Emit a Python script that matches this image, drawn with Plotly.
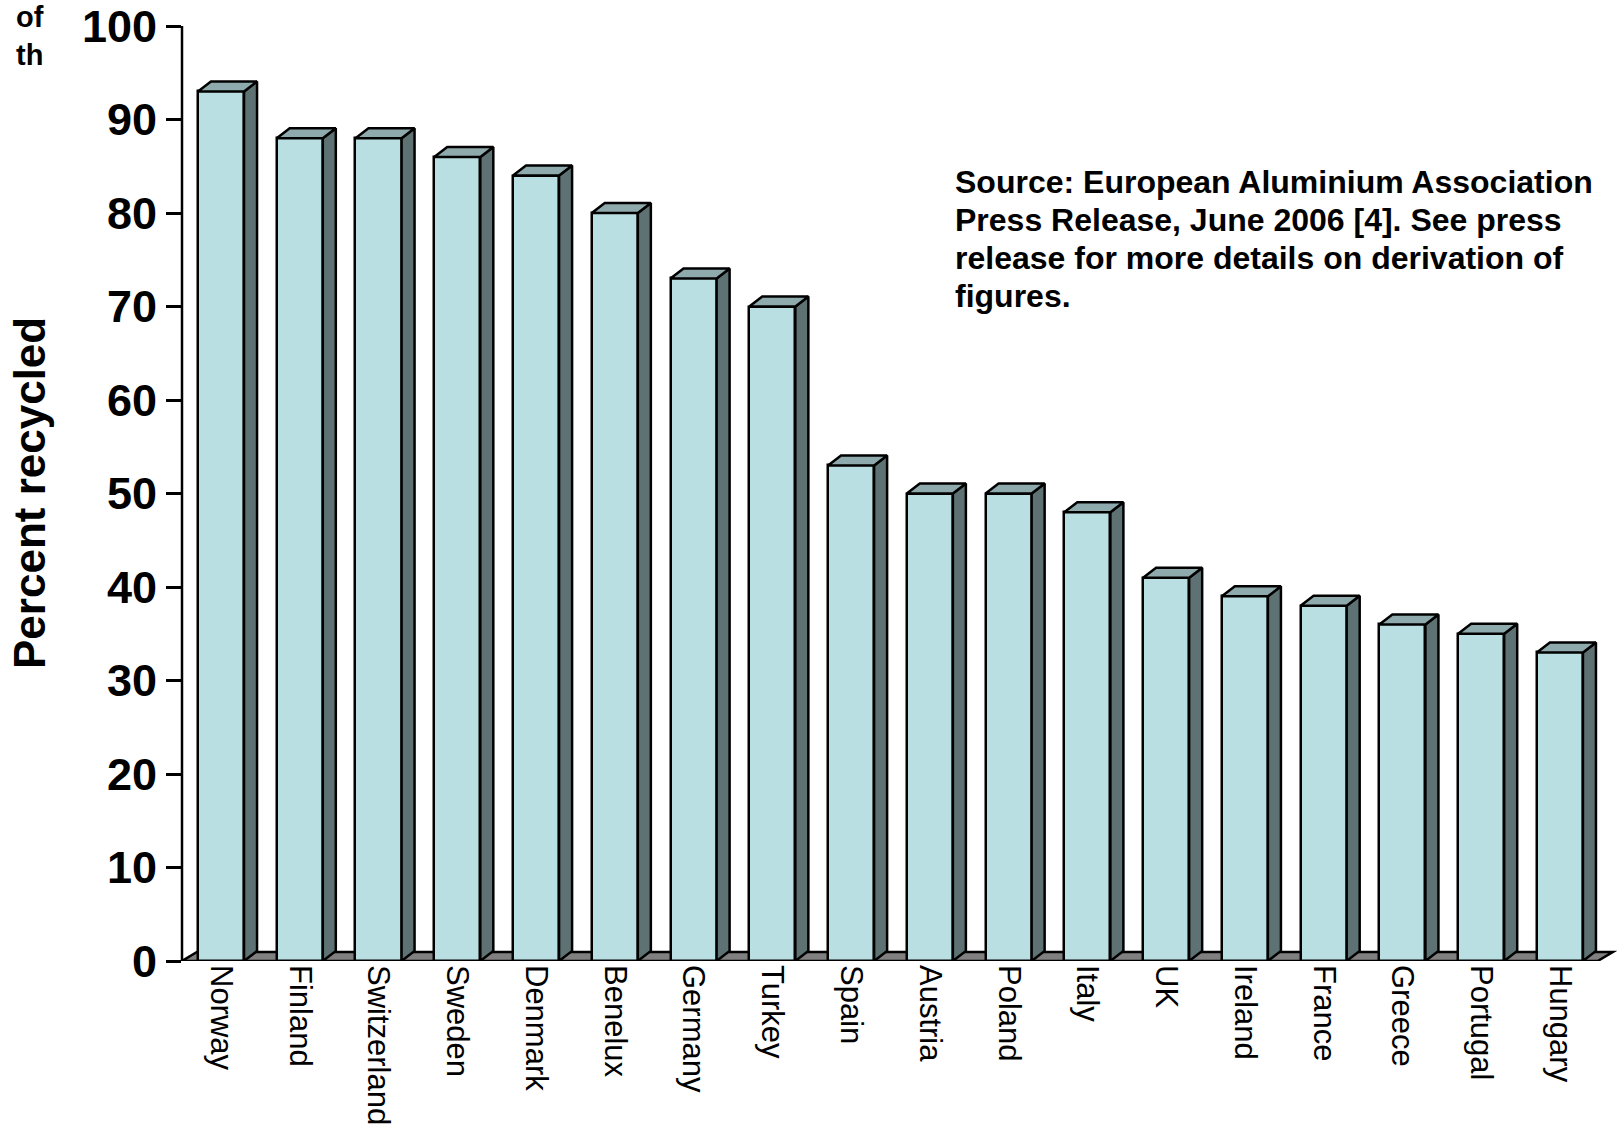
import plotly.graph_objects as go

countries = ["Norway", "Finland", "Switzerland", "Sweden", "Denmark", "Benelux",
             "Germany", "Turkey", "Spain", "Austria", "Poland", "Italy", "UK",
             "Ireland", "France", "Greece", "Portugal", "Hungary"]
percent = [93, 88, 88, 86, 84, 80, 73, 70, 53, 50, 50, 48, 41, 39, 38, 36, 35, 33]
y_ticks = [0, 10, 20, 30, 40, 50, 60, 70, 80, 90, 100]
source_lines = ["Source: European Aluminium Association",
                "Press Release, June 2006 [4]. See press",
                "release for more details on derivation of",
                "figures."]

FRONT = "#BADFE2"
TOP = "#8FAAAC"
SIDE = "#5E7274"
FLOOR = "#808080"
LW = 2.5
FONT = "Liberation Sans, Arial"

W, H = 1617, 1128
ML, MR, MT, MB = 182, 0, 0, 167
plot_w = W - ML - MR
plot_h = H - MT - MB
px_per_x = 78.76
px_per_y = 9.35
x0 = -39 / px_per_x
x1 = x0 + plot_w / px_per_x
y1 = plot_h / px_per_y

bw = 0.585
ddx = 13 / px_per_x
ddy = 10 / px_per_y
fdx = 15 / px_per_x
fdy = 9 / px_per_y

xs = list(range(len(countries)))

fig = go.Figure()

fig.add_trace(go.Bar(x=xs, y=percent, width=bw,
                     marker=dict(color=FRONT, line=dict(color="black", width=LW)),
                     hoverinfo="skip", showlegend=False))

tx, ty, sx, sy = [], [], [], []
for i, v in zip(xs, percent):
    l, r = i - bw / 2, i + bw / 2
    tx += [l, r, r + ddx, l + ddx, l, None]
    ty += [v, v, v + ddy, v + ddy, v, None]
    sx += [r, r + ddx, r + ddx, r, r, None]
    sy += [0, ddy, v + ddy, v, 0, None]

fig.add_trace(go.Scatter(x=sx, y=sy, mode="lines", fill="toself", fillcolor=SIDE,
                         line=dict(color="black", width=LW), hoverinfo="skip", showlegend=False))
fig.add_trace(go.Scatter(x=tx, y=ty, mode="lines", fill="toself", fillcolor=TOP,
                         line=dict(color="black", width=LW), hoverinfo="skip", showlegend=False))

fx_right = 17.48
floor_path = f"M {x0},0 L {fx_right},0 L {fx_right + fdx},{fdy} L {x0 + fdx},{fdy} Z"
fig.add_shape(type="path", path=floor_path, xref="x", yref="y", layer="below",
              fillcolor=FLOOR, line=dict(color="black", width=LW))
fig.add_shape(type="line", xref="paper", yref="y", x0=0, x1=0, y0=0, y1=100,
              line=dict(color="black", width=LW))

def px_x(p):
    return (p - ML) / plot_w

def px_y(p):
    return 1 - (p - MT) / plot_h

fig.add_annotation(text="Percent recycled", xref="paper", yref="paper",
                   x=px_x(30), y=px_y(493), textangle=-90,
                   showarrow=False, xanchor="center", yanchor="middle",
                   font=dict(family=FONT, size=44, color="black", weight="bold"))

for k, line in enumerate(source_lines):
    fig.add_annotation(text=line, xref="paper", yref="paper",
                       x=px_x(953), y=px_y(181.5 + k * 38.2),
                       showarrow=False, xanchor="left", yanchor="middle", align="left",
                       font=dict(family=FONT, size=32, color="black", weight="bold"))

fig.add_annotation(text="of<br>th", xref="paper", yref="paper",
                   x=px_x(46), y=px_y(-1),
                   showarrow=False, xanchor="right", yanchor="top", align="right",
                   font=dict(family=FONT, size=29, color="black", weight="bold"))

fig.update_layout(
    width=W, height=H,
    margin=dict(l=ML, r=MR, t=MT, b=MB, autoexpand=False),
    paper_bgcolor="white", plot_bgcolor="white",
    xaxis=dict(range=[x0, x1], tickmode="array", tickvals=xs, ticktext=countries,
               tickangle=90, showgrid=False, zeroline=False, showline=False, ticks="",
               ticklabelstandoff=3,
               tickfont=dict(family=FONT, size=31, color="black")),
    yaxis=dict(range=[0, y1], tickmode="array", tickvals=y_ticks,
               ticktext=[str(t) for t in y_ticks],
               showgrid=False, zeroline=False, showline=False, ticks="outside", ticklen=15,
               tickwidth=LW, tickcolor="black",
               tickfont=dict(family=FONT, size=45, color="black", weight="bold")),
    bargap=0,
)

fig.write_html("out.html")
